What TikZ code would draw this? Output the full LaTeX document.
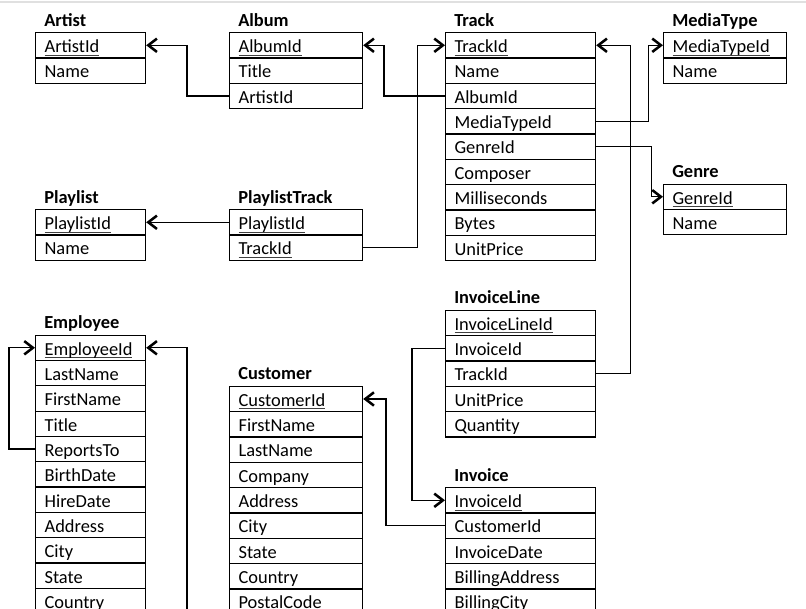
\documentclass[tikz,border=0pt]{standalone}
\usepackage{fontspec}
\setmainfont{Carlito}
\usetikzlibrary{arrows.meta}
\newcommand{\keyf}[1]{\setbox0\hbox{#1}\rlap{\color{black!75}\rule[-2.2pt]{\wd0}{0.6pt}}\box0}
\tikzset{
  rowbox/.style={draw=black, line width=0.9pt, anchor=north west, inner xsep=6.75pt, inner ysep=0pt,
    minimum height=19pt, text height=12pt, text depth=1pt, align=left,
    font=\fontsize{13.8}{16}\selectfont},
  ttl/.style={anchor=base west, inner sep=0pt, font=\fontsize{13.8}{16}\selectfont\bfseries},
  fk/.style={draw=black, line width=1pt, -{Straight Barb[length=6.5pt,width=10pt,line width=1.9pt]}},
  topline/.style={draw=black!12, line width=1pt}
}
\newcommand{\ertable}[6]{%
  \node[ttl] (#1-hdr) at ({#2+9},{#3-6}) {#5};
  \pgfmathsetmacro\ertw{(#4-18)*0.75}
  \foreach \k/\lbl [count=\i from 0] in {#6}{
    \node[rowbox, text width=\ertw pt] (#1-\k) at ({#2},{#3+\i*25.33}) {\lbl};
  }
}
\begin{document}
\begin{tikzpicture}[x=0.75pt, y=-0.75pt]
\useasboundingbox (0,0) rectangle (806,608);
\clip (0,0) rectangle (806,608);
\draw[topline] (0,2) -- (806,2);

\ertable{artist}{35}{32}{110}{Artist}{artistid/\keyf{ArtistId},name/Name}
\ertable{album}{229}{32}{133}{Album}{albumid/\keyf{AlbumId},title/Title,artistid/ArtistId}
\ertable{track}{445}{32}{150}{Track}{trackid/\keyf{TrackId},name/Name,albumid/AlbumId,mediatypeid/MediaTypeId,genreid/GenreId,composer/Composer,ms/Milliseconds,bytes/Bytes,unitprice/UnitPrice}
\ertable{mediatype}{663}{32}{123}{MediaType}{mediatypeid/\keyf{MediaTypeId},name/Name}
\ertable{genre}{663}{183.5}{123}{Genre}{genreid/\keyf{GenreId},name/Name}
\ertable{playlist}{35}{209}{110}{Playlist}{playlistid/\keyf{PlaylistId},name/Name}
\ertable{pltrack}{229}{209}{133}{PlaylistTrack}{playlistid/\keyf{PlaylistId},trackid/\keyf{TrackId}}
\ertable{employee}{35}{334.5}{110}{Employee}{employeeid/\keyf{EmployeeId},lastname/LastName,firstname/FirstName,title/Title,reportsto/ReportsTo,birthdate/BirthDate,hiredate/HireDate,address/Address,city/City,state/State,country/Country}
\ertable{customer}{229}{385.7}{133}{Customer}{customerid/\keyf{CustomerId},firstname/FirstName,lastname/LastName,company/Company,address/Address,city/City,state/State,country/Country,postalcode/PostalCode}
\ertable{invoiceline}{445}{309.7}{150}{InvoiceLine}{invoicelineid/\keyf{InvoiceLineId},invoiceid/InvoiceId,trackid/TrackId,unitprice/UnitPrice,quantity/Quantity}
\ertable{invoice}{445}{487}{150}{Invoice}{invoiceid/\keyf{InvoiceId},customerid/CustomerId,invoicedate/InvoiceDate,billingaddress/BillingAddress,billingcity/BillingCity}

% connectors
\draw[fk] (album-artistid.west) -- ++(-42,0) |- (artist-artistid.east);
\draw[fk] (track-albumid.west) -- ++(-61,0) |- (album-albumid.east);
\draw[fk] (pltrack-trackid.east) -- ++(54,0) |- (track-trackid.west);
\draw[fk] (pltrack-playlistid.west) -- (playlist-playlistid.east);
\draw[fk] (track-mediatypeid.east) -- ++(52,0) |- (mediatype-mediatypeid.west);
\draw[fk] (track-genreid.east) -- ++(55,0) |- (genre-genreid.west);
\draw[fk] (invoiceline-trackid.east) -- ++(34,0) |- (track-trackid.east);
\draw[fk] (invoiceline-invoiceid.west) -- ++(-33,0) |- (invoice-invoiceid.west);
\draw[fk] (invoice-customerid.west) -- ++(-59,0) |- (customer-customerid.east);
\draw[fk] (employee-reportsto.west) -- ++(-26,0) |- (employee-employeeid.west);
\coordinate (srep) at (187,620);
\draw[fk] (srep) |- (employee-employeeid.east);
\end{tikzpicture}
\end{document}
